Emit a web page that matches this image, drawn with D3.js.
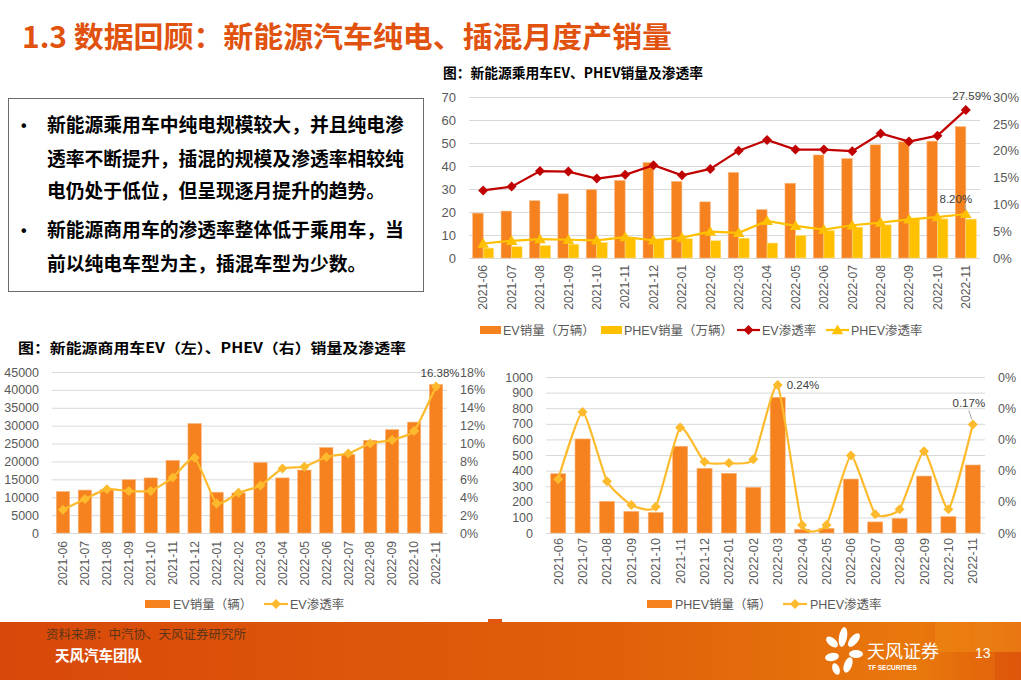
<!DOCTYPE html>
<html><head><meta charset="utf-8">
<script src="https://cdn.jsdelivr.net/npm/d3@7"></script>
<style>
body{margin:0;background:#fff;}
svg{display:block;}
text{font-family:"Liberation Sans","Noto Sans CJK SC",sans-serif;}
.cjk{font-family:"Noto Sans CJK SC","Liberation Sans",sans-serif;}
</style></head>
<body>
<svg id="c" width="1021" height="680"></svg>
<script>
// ---------- data ----------
const months = ["2021-06","2021-07","2021-08","2021-09","2021-10","2021-11","2021-12","2022-01","2022-02","2022-03","2022-04","2022-05","2022-06","2022-07","2022-08","2022-09","2022-10","2022-11"];
// passenger cars (万辆)
const pcEV   = [19.5,20.4,24.9,27.9,29.7,33.7,41.5,33.3,24.4,37.2,21.0,32.5,44.8,43.2,49.2,50.5,50.8,57.1];
const pcPHEV = [4.3,4.9,5.4,6.0,6.7,8.8,8.2,8.4,7.5,8.6,6.5,9.8,11.9,13.4,14.4,17.0,17.0,16.9];
const pcEVRate   = [12.6,13.3,16.2,16.1,14.8,15.5,17.3,15.4,16.6,20.0,22.0,20.2,20.2,19.9,23.2,21.7,22.8,27.59];
const pcPHEVRate = [2.7,3.2,3.5,3.4,3.3,3.9,3.3,3.8,4.9,4.7,6.9,6.0,5.3,6.1,6.6,7.2,7.6,8.20];
// commercial EV (辆)
const cvEV = [11600,12000,12200,14900,15400,20300,30600,11400,11200,19700,15400,17600,23900,21900,25900,28900,31000,41500];
const cvEVRate = [2.6,3.8,4.9,4.7,4.7,6.2,8.4,3.3,4.5,5.3,7.2,7.4,8.5,8.9,10.0,10.4,11.4,16.38];
// commercial PHEV (辆)
const cvPHEV = [380,603,203,139,132,556,415,383,293,870,24,30,346,71,94,365,105,436];
const cvPHEVRate = [0.086,0.194,0.083,0.045,0.042,0.169,0.114,0.112,0.118,0.237,0.013,0.013,0.124,0.030,0.038,0.131,0.038,0.174];

const pcLeftTicks = [0,10,20,30,40,50,60,70];
const pcRightTicks = [0,5,10,15,20,25,30];
const cvLeftTicks = [0,5000,10000,15000,20000,25000,30000,35000,40000,45000];
const cvRightTicks = [0,2,4,6,8,10,12,14,16,18];
const phLeftTicks = [0,100,200,300,400,500,600,700,800,900,1000];
const phRightTicks = [0,0.05,0.10,0.15,0.20,0.25];

const ORANGE = "#F5821F", YELLOW = "#FFC000", RED = "#C00000", LINEY = "#FDBA2C";
const GRID = "#D9D9D9", TXT = "#595959";

const svg = d3.select("#c");

// ---------- header ----------
svg.append("text").attr("x",22).attr("y",48).attr("class","cjk")
  .attr("font-size",29).attr("font-weight","bold").attr("fill","#E0520E")
  .attr("textLength",650).attr("lengthAdjust","spacingAndGlyphs")
  .text("1.3 数据回顾：新能源汽车纯电、插混月度产销量");

// text box
svg.append("rect").attr("x",8.5).attr("y",98.5).attr("width",415).attr("height",193)
  .attr("fill","#fff").attr("stroke","#6b6b6b").attr("stroke-width",1);
const lines = [
  {t:"新能源乘用车中纯电规模较大，并且纯电渗", y:132, b:true},
  {t:"透率不断提升，插混的规模及渗透率相较纯", y:166, b:false},
  {t:"电仍处于低位，但呈现逐月提升的趋势。", y:198, b:false},
  {t:"新能源商用车的渗透率整体低于乘用车，当", y:237, b:true},
  {t:"前以纯电车型为主，插混车型为少数。", y:271, b:false}
];
lines.forEach(l=>{
  if(l.b) svg.append("text").attr("x",21).attr("y",l.y-1).attr("font-size",16).attr("font-weight","bold").attr("fill","#000").text("•");
  svg.append("text").attr("x",47).attr("y",l.y).attr("class","cjk").attr("font-size",18.8)
    .attr("font-weight","bold").attr("fill","#000").text(l.t);
});

// ---------- helpers ----------
function chartFrame(o){
  const x = d3.scaleBand().domain(months).range([o.x0,o.x1]);
  const yL = d3.scaleLinear().domain(o.ld).range([o.yb,o.yt]);
  const yR = d3.scaleLinear().domain(o.rd).range([o.yb,o.yt]);
  const g = svg.append("g");
  g.append("g").attr("transform",`translate(${o.x0},0)`)
    .call(d3.axisLeft(yL).tickValues(o.lt).tickSize(-(o.x1-o.x0)).tickFormat(""))
    .call(s=>{s.select(".domain").remove(); s.selectAll("line").attr("stroke",GRID).attr("stroke-width",1);});
  g.append("g").attr("transform",`translate(${o.x0-10},0)`)
    .call(d3.axisLeft(yL).tickValues(o.lt).tickSize(0).tickFormat(o.lf||d3.format("d")))
    .call(s=>{s.select(".domain").remove(); s.selectAll("text").attr("fill",TXT).attr("font-size",o.fs||13).attr("font-family","Liberation Sans");});
  g.append("g").attr("transform",`translate(${o.x1+10},0)`)
    .call(d3.axisRight(yR).tickValues(o.rt).tickSize(0).tickFormat(o.rf))
    .call(s=>{s.select(".domain").remove(); s.selectAll("text").attr("fill",TXT).attr("font-size",o.fs||13).attr("font-family","Liberation Sans");});
  g.append("g").attr("transform",`translate(0,${o.yb+o.xl})`)
    .call(d3.axisBottom(x).tickSize(0))
    .call(s=>{s.select(".domain").remove();
      s.selectAll("text").attr("fill",TXT).attr("font-size",o.xfs||12.2).attr("font-family","Liberation Sans")
       .attr("text-anchor","end").attr("transform","rotate(-90)").attr("dx",0).attr("dy","0.35em").attr("y",0).attr("x",0);});
  return {x,yL,yR,g};
}
function diamond(sel,cx,cy,r,fill){
  sel.append("path").attr("d",`M${cx},${cy-r}L${cx+r},${cy}L${cx},${cy+r}L${cx-r},${cy}Z`).attr("fill",fill);
}
function triangle(sel,cx,cy,r,fill){
  sel.append("path").attr("d",`M${cx},${cy-r}L${cx+r*1.05},${cy+r*0.75}L${cx-r*1.05},${cy+r*0.75}Z`).attr("fill",fill);
}

// ---------- chart 1: passenger ----------
svg.append("text").attr("x",443).attr("y",78).attr("class","cjk").attr("font-size",14)
  .attr("font-weight","bold").attr("fill","#000").attr("textLength",260).attr("lengthAdjust","spacingAndGlyphs")
  .text("图：新能源乘用车EV、PHEV销量及渗透率");
{
  const c = chartFrame({x0:469,x1:980,yb:258,yt:97,ld:[0,70],rd:[0,30],lt:pcLeftTicks,rt:pcRightTicks,
    rf:d=>d+"%",xl:7,fs:13});
  const bw = c.x.bandwidth()*0.37;
  c.g.append("g").selectAll("rect").data(months).join("rect")
    .attr("x",(m)=>c.x(m)+c.x.bandwidth()/2-bw).attr("width",bw)
    .attr("y",(m,i)=>c.yL(pcEV[i])).attr("height",(m,i)=>c.yL(0)-c.yL(pcEV[i]))
    .attr("fill",ORANGE).attr("stroke","#F9B782").attr("stroke-width",0.6);
  c.g.append("g").selectAll("rect").data(months).join("rect")
    .attr("x",(m)=>c.x(m)+c.x.bandwidth()/2).attr("width",bw)
    .attr("y",(m,i)=>c.yL(pcPHEV[i])).attr("height",(m,i)=>c.yL(0)-c.yL(pcPHEV[i]))
    .attr("fill",YELLOW).attr("stroke","#FFDD80").attr("stroke-width",0.6);
  const cx = m=>c.x(m)+c.x.bandwidth()/2;
  const lineEV = d3.line().x((d,i)=>cx(months[i])).y(d=>c.yR(d));
  c.g.append("path").datum(pcEVRate).attr("d",lineEV).attr("fill","none").attr("stroke",RED).attr("stroke-width",2.2);
  c.g.append("path").datum(pcPHEVRate).attr("d",lineEV).attr("fill","none").attr("stroke",YELLOW).attr("stroke-width",2.2);
  pcEVRate.forEach((v,i)=>diamond(c.g,cx(months[i]),c.yR(v),5,RED));
  pcPHEVRate.forEach((v,i)=>triangle(c.g,cx(months[i]),c.yR(v),5.5,YELLOW));
  const li = months.length-1;
  c.g.append("text").attr("x",cx(months[li])+6).attr("y",c.yR(pcEVRate[li])-10).attr("text-anchor","middle")
    .attr("font-size",11.5).attr("fill","#404040").text("27.59%");
  c.g.append("text").attr("x",cx(months[li])-10).attr("y",c.yR(pcPHEVRate[li])-11).attr("text-anchor","middle")
    .attr("font-size",11.5).attr("fill","#404040").text("8.20%");
  c.g.append("line").attr("x1",cx(months[li])-1).attr("x2",cx(months[li])).attr("y1",c.yR(pcPHEVRate[li])-9).attr("y2",c.yR(pcPHEVRate[li])-3).attr("stroke","#A6A6A6");
  const ly = 330, L = c.g.append("g").attr("class","cjk");
  L.append("rect").attr("x",480).attr("y",ly-4).attr("width",21).attr("height",8).attr("fill",ORANGE);
  L.append("text").attr("x",503).attr("y",ly+4.5).attr("font-size",12.5).attr("fill",TXT).text("EV销量（万辆）");
  L.append("rect").attr("x",601).attr("y",ly-4).attr("width",21).attr("height",8).attr("fill",YELLOW);
  L.append("text").attr("x",624).attr("y",ly+4.5).attr("font-size",12.5).attr("fill",TXT).text("PHEV销量（万辆）");
  L.append("line").attr("x1",737).attr("x2",760).attr("y1",ly).attr("y2",ly).attr("stroke",RED).attr("stroke-width",2.2);
  diamond(L,748.5,ly,5,RED);
  L.append("text").attr("x",762).attr("y",ly+4.5).attr("font-size",12.5).attr("fill",TXT).text("EV渗透率");
  L.append("line").attr("x1",826).attr("x2",849).attr("y1",ly).attr("y2",ly).attr("stroke",YELLOW).attr("stroke-width",2.2);
  triangle(L,837.5,ly,5.5,YELLOW);
  L.append("text").attr("x",851).attr("y",ly+4.5).attr("font-size",12.5).attr("fill",TXT).text("PHEV渗透率");
}

// ---------- chart 2: commercial EV ----------
svg.append("text").attr("x",18).attr("y",353).attr("class","cjk").attr("font-size",14)
  .attr("font-weight","bold").attr("fill","#000").attr("textLength",388).attr("lengthAdjust","spacingAndGlyphs")
  .text("图：新能源商用车EV（左）、PHEV（右）销量及渗透率");
{
  const c = chartFrame({x0:52,x1:447,yb:533,yt:372,ld:[0,45000],rd:[0,18],lt:cvLeftTicks,rt:cvRightTicks,
    rf:d=>d+"%",xl:8,fs:12.5});
  const bw = c.x.bandwidth()*0.61;
  const cx = m=>c.x(m)+c.x.bandwidth()/2;
  c.g.append("g").selectAll("rect").data(months).join("rect")
    .attr("x",m=>cx(m)-bw/2).attr("width",bw)
    .attr("y",(m,i)=>c.yL(cvEV[i])).attr("height",(m,i)=>c.yL(0)-c.yL(cvEV[i]))
    .attr("fill",ORANGE).attr("stroke","#F9B782").attr("stroke-width",0.6);
  const ln = d3.line().x((d,i)=>cx(months[i])).y(d=>c.yR(d)).curve(d3.curveCardinal.tension(0.5));
  c.g.append("path").datum(cvEVRate).attr("d",ln).attr("fill","none").attr("stroke",LINEY).attr("stroke-width",2.2);
  cvEVRate.forEach((v,i)=>diamond(c.g,cx(months[i]),c.yR(v),5,LINEY));
  const li = months.length-1;
  c.g.append("text").attr("x",cx(months[li])+4).attr("y",c.yR(cvEVRate[li])-9).attr("text-anchor","middle")
    .attr("font-size",11.5).attr("fill","#404040").text("16.38%");
  const ly = 604, L = c.g.append("g").attr("class","cjk");
  L.append("rect").attr("x",145).attr("y",ly-4).attr("width",25).attr("height",8).attr("fill",ORANGE);
  L.append("text").attr("x",173).attr("y",ly+4.5).attr("font-size",12.5).attr("fill",TXT).text("EV销量（辆）");
  L.append("line").attr("x1",264).attr("x2",288).attr("y1",ly).attr("y2",ly).attr("stroke",LINEY).attr("stroke-width",2.2);
  diamond(L,276,ly,5,LINEY);
  L.append("text").attr("x",290).attr("y",ly+4.5).attr("font-size",12.5).attr("fill",TXT).text("EV渗透率");
}

// ---------- chart 3: commercial PHEV ----------
{
  const c = chartFrame({x0:546,x1:985,yb:533,yt:377,ld:[0,1000],rd:[0,0.25],lt:phLeftTicks,rt:phRightTicks,
    rf:d=>"0%",xl:5,fs:12.5,xfs:12.8});
  const bw = c.x.bandwidth()*0.62;
  const cx = m=>c.x(m)+c.x.bandwidth()/2;
  c.g.append("g").selectAll("rect").data(months).join("rect")
    .attr("x",m=>cx(m)-bw/2).attr("width",bw)
    .attr("y",(m,i)=>c.yL(cvPHEV[i])).attr("height",(m,i)=>c.yL(0)-c.yL(cvPHEV[i]))
    .attr("fill",ORANGE).attr("stroke","#F9B782").attr("stroke-width",0.6);
  const ln = d3.line().x((d,i)=>cx(months[i])).y(d=>c.yR(d)).curve(d3.curveCardinal.tension(0.5));
  c.g.append("path").datum(cvPHEVRate).attr("d",ln).attr("fill","none").attr("stroke",LINEY).attr("stroke-width",2.2);
  cvPHEVRate.forEach((v,i)=>diamond(c.g,cx(months[i]),c.yR(v),5,LINEY));
  c.g.append("text").attr("x",cx(months[9])+9).attr("y",c.yR(cvPHEVRate[9])+4).attr("font-size",11.5)
    .attr("fill","#404040").text("0.24%");
  const li = months.length-1;
  c.g.append("text").attr("x",cx(months[li])-4).attr("y",c.yR(cvPHEVRate[li])-17).attr("text-anchor","middle")
    .attr("font-size",11.5).attr("fill","#404040").text("0.17%");
  c.g.append("line").attr("x1",cx(months[li])-4).attr("x2",cx(months[li])-1).attr("y1",c.yR(cvPHEVRate[li])-14).attr("y2",c.yR(cvPHEVRate[li])-5).attr("stroke","#A6A6A6");
  const ly = 604, L = c.g.append("g").attr("class","cjk");
  L.append("rect").attr("x",647).attr("y",ly-4).attr("width",25).attr("height",8).attr("fill",ORANGE);
  L.append("text").attr("x",675).attr("y",ly+4.5).attr("font-size",12.5).attr("fill",TXT).text("PHEV销量（辆）");
  L.append("line").attr("x1",783).attr("x2",807).attr("y1",ly).attr("y2",ly).attr("stroke",LINEY).attr("stroke-width",2.2);
  diamond(L,795,ly,5,LINEY);
  L.append("text").attr("x",810).attr("y",ly+4.5).attr("font-size",12.5).attr("fill",TXT).text("PHEV渗透率");
}

// ---------- footer ----------
const defs = svg.append("defs");
const gr = defs.append("linearGradient").attr("id","fg").attr("x1","0").attr("x2","1").attr("y1","0").attr("y2","0");
gr.append("stop").attr("offset","0").attr("stop-color","#D8480A");
gr.append("stop").attr("offset","0.6").attr("stop-color","#E0600A");
gr.append("stop").attr("offset","0.9").attr("stop-color","#E9780C");
gr.append("stop").attr("offset","1").attr("stop-color","#E0520A");
svg.append("rect").attr("x",0).attr("y",622).attr("width",1021).attr("height",58).attr("fill","url(#fg)");
svg.append("rect").attr("x",488).attr("y",619).attr("width",14).attr("height",4).attr("fill","#E2560F");
[[935,622,40,30,"#EF8A12",0.6],[975,622,46,30,"#F29A1A",0.5],[955,652,40,28,"#E6700C",0.5],[995,652,26,28,"#DE5A0A",0.6],[900,652,55,28,"#E97A0E",0.3]]
  .forEach(r=>svg.append("rect").attr("x",r[0]).attr("y",r[1]).attr("width",r[2]).attr("height",r[3]).attr("fill",r[4]).attr("opacity",r[5]));
svg.append("text").attr("x",46).attr("y",639).attr("class","cjk").attr("font-size",12.5).attr("fill","#5C3519").text("资料来源：中汽协、天风证券研究所");
svg.append("text").attr("x",55).attr("y",661).attr("class","cjk").attr("font-size",14.5).attr("font-weight","bold").attr("fill","#fff").text("天风汽车团队");
const lg = svg.append("g").attr("fill","#fff");
[[843,637,4,10,10],[854,640,4,8,40],[832,642,4,7,-50],[856,654,4,7,90],[832,657,4,7,-100],[848,665,4,8,20],[836,669,3.5,6,-20]]
  .forEach(p=>lg.append("ellipse").attr("cx",p[0]).attr("cy",p[1]).attr("rx",p[2]).attr("ry",p[3]).attr("transform",`rotate(${p[4]},${p[0]},${p[1]})`));
svg.append("text").attr("x",867).attr("y",658).attr("class","cjk").attr("font-size",18).attr("fill","#fff").text("天风证券");
svg.append("text").attr("x",868).attr("y",670).attr("font-size",6.5).attr("font-weight","bold").attr("fill","#fff").text("TF SECURITIES");
svg.append("text").attr("x",975).attr("y",658).attr("font-size",14).attr("fill","#fff").text("13");
</script>
</body></html>
